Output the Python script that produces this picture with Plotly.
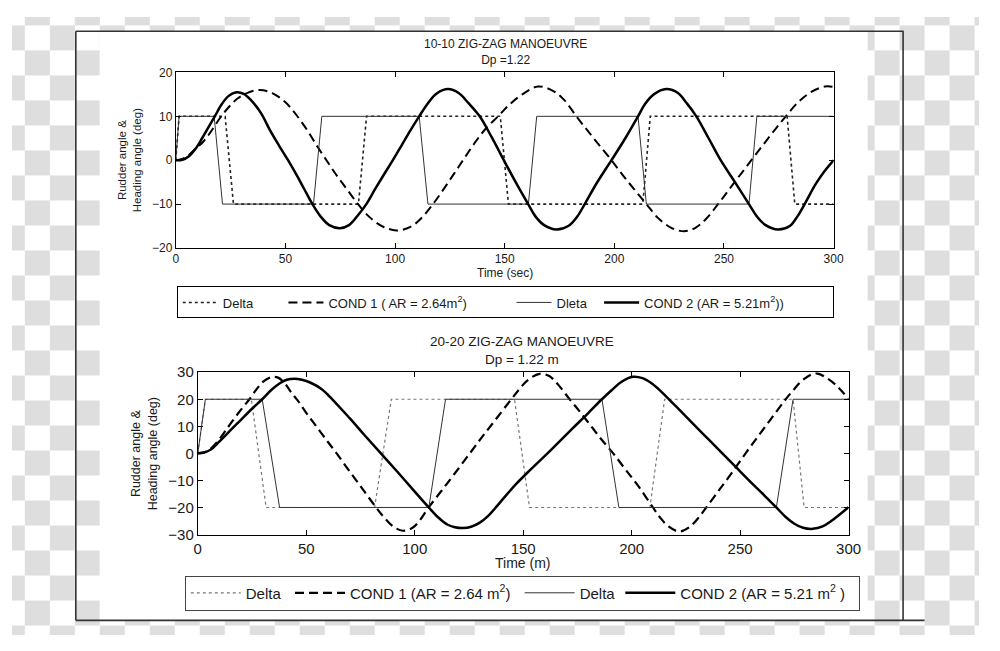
import plotly.graph_objects as go

# ---------------- DATA: 10-10 zig-zag (top) ----------------
top_delta_t = [0, 1.5, 22.5, 26.3, 83.3, 87, 148, 151.7, 213, 216.4, 278.8, 282.3, 300]
top_delta_v = [0, 10, 10, -10, -10, 10, 10, -10, -10, 10, 10, -10, -10]

top_dleta_t = [0, 1.5, 17.5, 21.3, 62.8, 66.6, 111, 115, 160.8, 164.6, 210.8, 214.6, 261.4, 265, 300]
top_dleta_v = [0, 10, 10, -10, -10, 10, 10, -10, -10, 10, 10, -10, -10, 10, 10]

top_cond1_t = [0, 3, 6, 9, 12.5, 16, 20, 24, 28, 33, 38.3, 44, 50, 55, 60, 64.2, 68.7, 73, 78,
               83.1, 88, 94, 100.6, 107, 112, 117.3, 122, 127, 131, 136, 141, 147, 152, 158,
               165.2, 172, 177, 182.7, 188, 193, 198.7, 204, 209, 214.6, 220, 226, 231.8, 237,
               242, 247.3, 252, 257, 262.5, 268, 273, 278.2, 284, 290, 296, 300]
top_cond1_v = [0, 0.3, 1.2, 2.6, 4.2, 6.5, 9.5, 12, 14, 15.4, 16, 15.3, 13.2, 10.3, 6.8, 3.4, 0,
               -3.2, -6.6, -10, -12.8, -15, -16, -15.2, -13.2, -10, -6.7, -3, 0, 3.7, 7, 10,
               12.6, 15, 16.8, 15.8, 13.8, 10, 6.6, 3.5, 0, -3.5, -6.6, -10, -13.2, -15.4,
               -16.2, -15.4, -13.3, -10, -6.9, -3.6, 0, 3.6, 6.8, 10, 13.3, 15.6, 16.8, 16.7]

top_cond2_t = [0, 3, 6, 9, 12, 15, 17.8, 21, 24, 27.7, 31, 35, 39, 43, 47, 51.2, 55, 58.5, 62.3,
               66, 70, 74.8, 79, 83, 86.9, 91, 95, 99, 103, 107, 111, 115, 119, 124.2, 129,
               133.5, 138.6, 144, 149.6, 155, 160.7, 164, 168, 173.6, 179, 183, 186.5, 192,
               198.7, 205, 210.8, 214, 218, 223.7, 229, 233, 237.4, 243, 248.5, 255, 261.4,
               265, 269, 274.7, 280, 283.5, 286.8, 292, 296, 300]
top_cond2_v = [0, 0.1, 0.9, 2.6, 5, 7.6, 10, 12.8, 14.6, 15.5, 15.1, 13.3, 10.6, 6.8, 3.4, 0,
               -3.3, -6.5, -10, -12.8, -14.8, -15.5, -14.8, -12.6, -10, -6.5, -3.2, 0, 3.4,
               6.8, 10, 13, 15.2, 16.2, 15.3, 13, 10, 5.3, 0, -5, -10, -12.8, -14.8, -15.8,
               -15, -12.9, -10, -5.2, 0, 5, 10, 12.8, 15, 16.2, 15.3, 13, 10, 5, 0, -5, -10,
               -12.8, -14.8, -15.8, -15, -12.8, -10, -5.3, -2.4, 0]

# ---------------- DATA: 20-20 zig-zag (bottom) ----------------
bot_delta_t = [0, 3.5, 24.7, 31.5, 81.5, 89.2, 146, 152.9, 208.4, 215.2, 274.4, 279.5, 300]
bot_delta_v = [0, 20, 20, -20, -20, 20, 20, -20, -20, 20, 20, -20, -20]

bot_delta2_t = [0, 3.5, 29.7, 37.7, 106.5, 114.2, 186.3, 194.1, 266.7, 274.4, 300]
bot_delta2_v = [0, 20, 20, -20, -20, 20, 20, -20, -20, 20, 20]

bot_cond1_t = [0, 3, 6, 9, 12, 14.6, 19, 23.8, 27, 30, 34, 37, 40, 43, 46.1, 50, 55, 60, 64, 70,
               76, 82.2, 86, 90, 94.5, 99, 102.5, 106.4, 112, 118, 125.4, 131, 137, 144.5, 148,
               152, 157.5, 162, 166, 171.4, 176, 181, 186, 191.5, 197, 203, 209.8, 213, 217,
               222, 227, 231, 234.4, 240, 246, 252.5, 258, 264, 271, 275, 279, 285, 290, 295, 300]
bot_cond1_v = [0, 0.4, 1.8, 4.3, 7.5, 10.4, 15.2, 20, 23.6, 26.4, 28.2, 28, 26, 22.6, 19.5, 15,
               9.6, 4.2, 0, -6.7, -13.2, -20, -23.8, -27, -28.6, -27.5, -24.6, -20, -14.2, -7.9,
               0, 6, 12.2, 20, 23.5, 27, 29.4, 28.6, 25.5, 20, 15.5, 10.4, 5.2, 0, -5.8, -12,
               -20, -23.6, -27, -28.9, -27, -23.6, -20, -13.9, -7.4, 0, 6, 12.5, 20, 23.8, 27.2,
               29.6, 27.8, 24.6, 20]

bot_cond2_t = [0, 3, 6, 10, 15, 20, 25, 29.7, 34, 38, 41, 44.6, 48, 52, 57, 62, 70, 77, 84.4, 92,
               99, 106.5, 111, 115, 118.5, 122.3, 126, 130, 134, 138, 142, 146.9, 153, 160, 167,
               173, 180, 186.3, 191, 195, 200.6, 205, 209, 212.9, 220, 228, 235, 241.8, 248.2,
               255, 261, 266.7, 271, 275, 279, 283.5, 288, 292, 296, 300]
bot_cond2_v = [0, 0.3, 1.4, 4.4, 8.5, 12.5, 16.5, 20, 23.5, 26, 27.2, 27.6, 27.2, 26.1, 23.8,
               20, 13, 6.6, 0, -6.8, -13.2, -20, -23.8, -26.3, -27.3, -27.6, -27.1, -25.6, -23,
               -19.4, -15.6, -11.2, -6.3, -0.9, 4.6, 9.4, 14.9, 20, 23.5, 26.3, 28.3, 27.8, 26,
               23.4, 17.7, 11.2, 5.5, 0, -5.2, -10.7, -15.4, -20, -23.5, -26, -27.5, -27.9,
               -27, -25, -22.5, -19.9]

x_ticks = [0, 50, 100, 150, 200, 250, 300]
top_y_ticks = [-20, -10, 0, 10, 20]
bot_y_ticks = [-30, -20, -10, 0, 10, 20, 30]

# ---------------- helpers ----------------
# Figure sized to sit inside the page's default 8px body margin; positions
# below are given in photographed-window pixels (a small measured scale/offset
# of the capture is compensated).
OFF = 8
W, H = 1000 - 2 * OFF, 651 - 2 * OFF
SX, AX = 0.983, 4.3
SY, AY = 0.973, 8.8
FONT = "Liberation Sans, Arial, sans-serif"
TXT = "#1a1a1a"


def px(x):
    xi = (x - AX) / SX
    return (xi - OFF) / W


def py(y):
    yi = (y - AY) / SY
    return 1 - (yi - OFF) / H


def clamp(v):
    return min(1.0, max(0.0, v))


NB = "\u00a0"

fig = go.Figure()

# Top traces
fig.add_trace(go.Scatter(x=top_delta_t, y=top_delta_v, mode="lines", name="Delta" + NB * 7,
                         line=dict(color="#222", width=1.6, dash="dot"),
                         xaxis="x", yaxis="y", legend="legend"))
fig.add_trace(go.Scatter(x=top_cond1_t, y=top_cond1_v, mode="lines",
                         name="COND 1 ( AR = 2.64m<sup>2</sup>)" + NB * 11,
                         line=dict(color="black", width=2, dash="9px,5px", shape="spline"),
                         xaxis="x", yaxis="y", legend="legend"))
fig.add_trace(go.Scatter(x=top_dleta_t, y=top_dleta_v, mode="lines", name="Dleta" + NB * 2,
                         line=dict(color="#333", width=1),
                         xaxis="x", yaxis="y", legend="legend"))
fig.add_trace(go.Scatter(x=top_cond2_t, y=top_cond2_v, mode="lines",
                         name="COND 2 (AR = 5.21m<sup>2</sup>))" + NB * 12,
                         line=dict(color="black", width=2.5, shape="spline"),
                         xaxis="x", yaxis="y", legend="legend"))

# Bottom traces
fig.add_trace(go.Scatter(x=bot_delta_t, y=bot_delta_v, mode="lines", name="Delta" + NB,
                         line=dict(color="#777", width=1.2, dash="dot"),
                         xaxis="x2", yaxis="y2", legend="legend2"))
fig.add_trace(go.Scatter(x=bot_cond1_t, y=bot_cond1_v, mode="lines",
                         name="COND 1 (AR = 2.64 m<sup>2</sup>)" + NB,
                         line=dict(color="black", width=2.2, dash="9px,5px", shape="spline"),
                         xaxis="x2", yaxis="y2", legend="legend2"))
fig.add_trace(go.Scatter(x=bot_delta2_t, y=bot_delta2_v, mode="lines", name="Delta",
                         line=dict(color="#333", width=1),
                         xaxis="x2", yaxis="y2", legend="legend2"))
fig.add_trace(go.Scatter(x=bot_cond2_t, y=bot_cond2_v, mode="lines",
                         name="COND 2 (AR = 5.21 m<sup>2</sup> )" + NB * 2,
                         line=dict(color="black", width=2.5, shape="spline"),
                         xaxis="x2", yaxis="y2", legend="legend2"))

axis_common = dict(showline=True, linecolor="black", linewidth=1, mirror="ticks",
                   ticks="inside", ticklen=5, tickcolor="black", showgrid=False,
                   zeroline=False, fixedrange=True)

fig.update_layout(
    width=W, height=H, autosize=False,
    margin=dict(l=0, r=0, t=0, b=0),
    paper_bgcolor="white", plot_bgcolor="rgba(0,0,0,0)",
    font=dict(family=FONT, color=TXT),
    xaxis=dict(domain=[px(176), px(834)], range=[0, 300], anchor="y", tickvals=x_ticks,
               tickfont=dict(size=12, color=TXT), **axis_common),
    yaxis=dict(domain=[py(247.5), py(72)], range=[-20, 20], anchor="x", tickvals=top_y_ticks,
               tickfont=dict(size=12, color=TXT), **axis_common),
    xaxis2=dict(domain=[px(198), px(849)], range=[0, 300], anchor="y2", tickvals=x_ticks,
                tickfont=dict(size=15, color=TXT), **axis_common),
    yaxis2=dict(domain=[py(534), py(371.7)], range=[-30, 30], anchor="x2", tickvals=bot_y_ticks,
                tickfont=dict(size=15, color=TXT), **axis_common),
    legend=dict(x=px(177), y=py(286), xanchor="left", yanchor="top", orientation="h",
                bordercolor="black", borderwidth=1, bgcolor="white",
                font=dict(size=13, color=TXT, family=FONT), itemwidth=35),
    legend2=dict(x=px(185), y=py(575), xanchor="left", yanchor="top", orientation="h",
                 bordercolor="#444", borderwidth=1, bgcolor="white",
                 font=dict(size=15, color=TXT, family=FONT), itemwidth=50),
    showlegend=True,
)

# ---------------- background: checkerboard + white panel + frame ----------------
shapes = []
GRAY = "#dedede"
S = 25
for r in range(0, 651 // S + 1):
    for c in range(0, 1000 // S + 1):
        if (r + c) % 2 == 1:
            x0, y0, x1, y1 = c * S, r * S, c * S + S, r * S + S
            if x0 >= 100 and x1 <= 868 and y0 >= 31 and y1 <= 619:
                continue
            shapes.append(dict(type="rect", xref="paper", yref="paper", layer="below",
                               x0=clamp(px(x0)), x1=clamp(px(x1)),
                               y0=clamp(py(y1)), y1=clamp(py(y0)),
                               fillcolor=GRAY, line=dict(width=0)))
shapes.append(dict(type="rect", xref="paper", yref="paper", layer="below",
                   x0=px(100), x1=px(868), y0=py(619.5), y1=py(31),
                   fillcolor="white", line=dict(width=0)))
frame = dict(color="#333", width=1.6)
shapes += [
    dict(type="line", xref="paper", yref="paper", layer="below", x0=px(76), x1=px(904),
         y0=py(30.8), y1=py(30.8), line=frame),
    dict(type="line", xref="paper", yref="paper", layer="below", x0=px(76), x1=px(76),
         y0=py(30.8), y1=py(619.8), line=frame),
    dict(type="line", xref="paper", yref="paper", layer="below", x0=px(903.5), x1=px(903.5),
         y0=py(30.8), y1=py(619.8), line=frame),
    dict(type="line", xref="paper", yref="paper", layer="below", x0=px(76), x1=px(925),
         y0=py(619.8), y1=py(619.8), line=frame),
]
fig.update_layout(shapes=shapes)

# ---------------- text annotations ----------------
ann = []


def text(x, y, s, size, angle=0):
    ann.append(dict(x=px(x), y=py(y), xref="paper", yref="paper", text=s, showarrow=False,
                    xanchor="center", yanchor="middle", textangle=angle,
                    font=dict(size=size, color=TXT, family=FONT)))


text(506, 51.5, "10-10 ZIG-ZAG MANOEUVRE<br>Dp =1.22", 12)
text(505, 273, "Time (sec)", 12)
text(130, 160, "Rudder angle &amp;<br>Heading angle (deg)", 11.5, -90)

text(522, 350, "20-20 ZIG-ZAG MANOEUVRE<br>Dp = 1.22 m", 13.5)
text(523, 562, "Time (m)", 14)
text(144, 453, "Rudder angle &amp;<br>Heading angle (deg)", 12.5, -90)

fig.update_layout(annotations=ann)

fig.write_html("out.html", config={"displayModeBar": False, "responsive": False})
